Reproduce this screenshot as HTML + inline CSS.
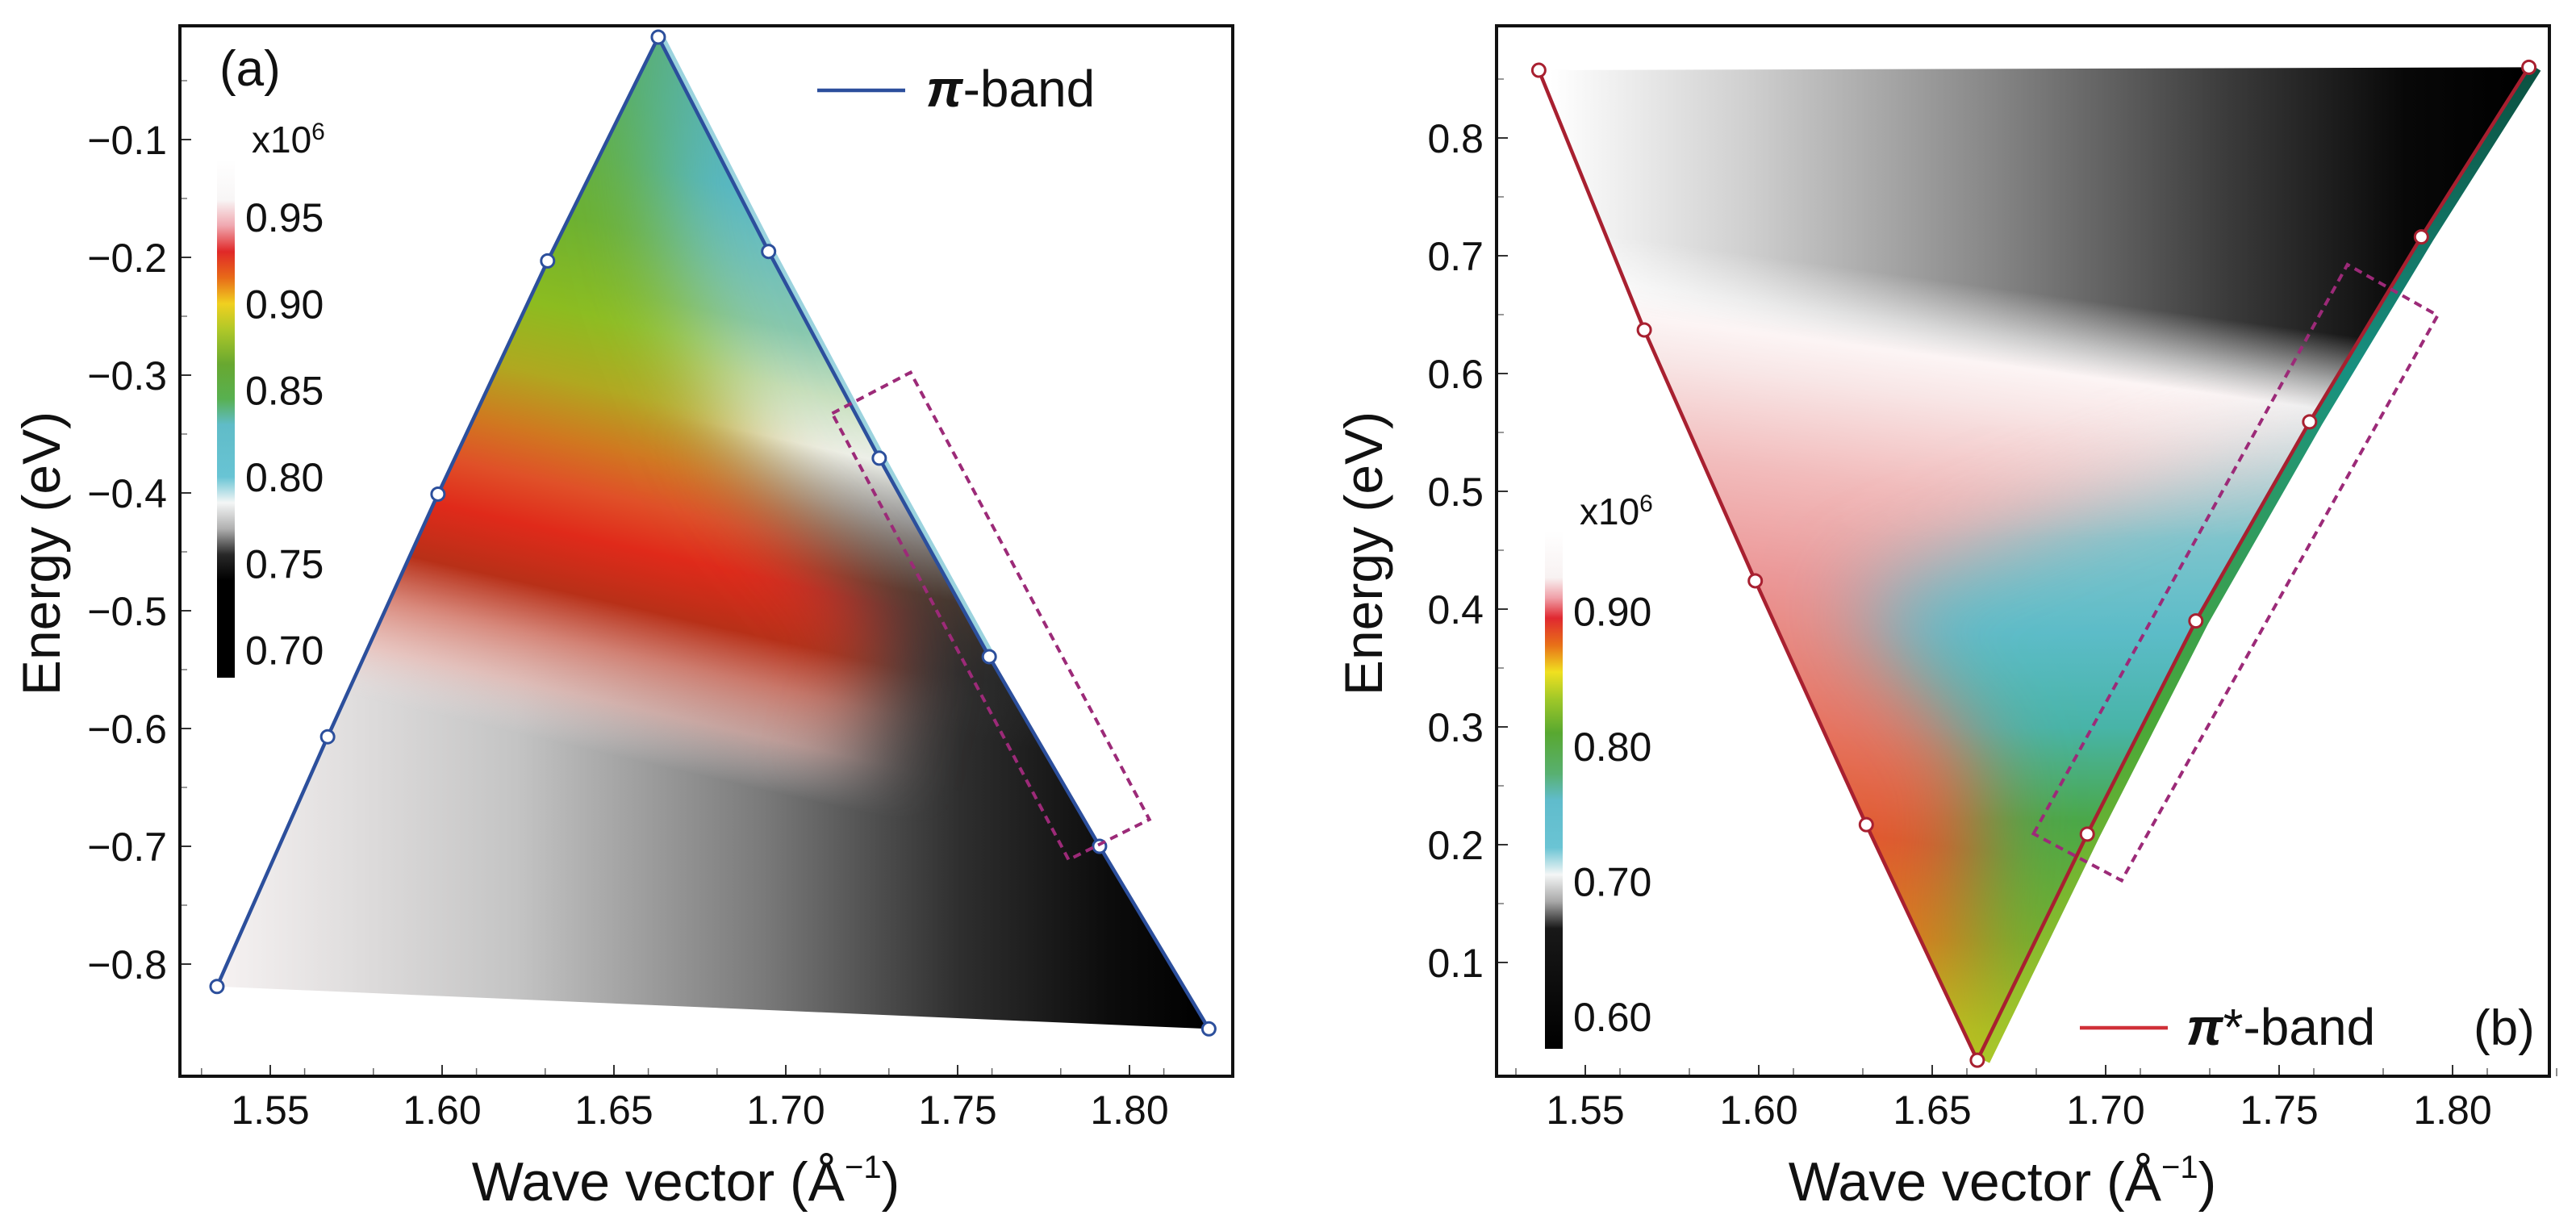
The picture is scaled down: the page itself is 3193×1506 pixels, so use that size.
<!DOCTYPE html>
<html><head><meta charset="utf-8"><style>
html,body{margin:0;padding:0;background:#fff;}
svg{display:block;font-family:"Liberation Sans",sans-serif;}
</style></head><body>
<svg id="fig" xmlns="http://www.w3.org/2000/svg" width="3193" height="1506" viewBox="0 0 3193 1506">
<defs id="defs"></defs>
</svg>
<script>
// ---------- data ----------
const xTicks = [1.55, 1.60, 1.65, 1.70, 1.75, 1.80];
const xTickLabels = ["1.55","1.60","1.65","1.70","1.75","1.80"];
const yTicksA = [-0.1,-0.2,-0.3,-0.4,-0.5,-0.6,-0.7,-0.8];
const yTickLabelsA = ["\u22120.1","\u22120.2","\u22120.3","\u22120.4","\u22120.5","\u22120.6","\u22120.7","\u22120.8"];
const yTicksB = [0.1,0.2,0.3,0.4,0.5,0.6,0.7,0.8];
const yTickLabelsB = ["0.1","0.2","0.3","0.4","0.5","0.6","0.7","0.8"];
const piK = [1.5345,1.5667,1.5988,1.6307,1.6629,1.6950,1.7272,1.7592,1.7913,1.8231];
const piE = [-0.819,-0.607,-0.401,-0.203,-0.013,-0.195,-0.3705,-0.539,-0.700,-0.855];
const piStarK = [1.5366,1.5670,1.5990,1.6310,1.6630,1.6947,1.7260,1.7588,1.7910,1.8220];
const piStarE = [0.8575,0.637,0.424,0.217,0.017,0.209,0.390,0.559,0.716,0.860];
const cbarTicksA = [0.95,0.90,0.85,0.80,0.75,0.70];
const cbarLabelsA = ["0.95","0.90","0.85","0.80","0.75","0.70"];
const cbarTicksB = [0.90,0.80,0.70,0.60];
const cbarLabelsB = ["0.90","0.80","0.70","0.60"];
const boxAK = [1.7135,1.7363,1.8058,1.7823];
const boxAE = [-0.3325,-0.2977,-0.6772,-0.7114];
const boxBK = [1.6792,1.7697,1.7957,1.7046];
const boxBE = [0.2093,0.6925,0.6493,0.1696];

// ---------- axes ----------
const A = {L:223,R:1528,T:32,B:1334,
  x:v=>335+(v-1.55)*4260, y:v=>173+(-0.1-v)*1460};
const Bp = {L:1855,R:3160,T:32,B:1334,
  x:v=>1965+(v-1.55)*4300, y:v=>171+(0.8-v)*1460};

const NS="http://www.w3.org/2000/svg";
const svg=document.getElementById('fig');
const defs=document.getElementById('defs');
function el(tag,attrs,parent){const e=document.createElementNS(NS,tag);for(const k in attrs)e.setAttribute(k,attrs[k]);(parent||svg).appendChild(e);return e;}
function grad(id,x1,y1,x2,y2,stops){
  const g=el('linearGradient',{id:id,gradientUnits:'userSpaceOnUse',x1:x1,y1:y1,x2:x2,y2:y2},defs);
  stops.forEach(s=>el('stop',{offset:s[0],'stop-color':s[1],'stop-opacity':s[2]===undefined?1:s[2]},g));
  return g;
}
function tiltGrad(id,ax,kRef,e0,e1,slope,stops){
  const x0=ax.x(kRef), y0=ax.y(e0), y1=ax.y(e1);
  const n=Math.sqrt(1+slope*slope), ux=-slope/n, uy=1/n;
  const Lp=(y1-y0)/n;
  const X1=x0+ux*Lp, Y1=y0+uy*Lp;
  return grad(id,x0,y0,X1,Y1,stops.map(s=>[(s[0]-e0)/(e1-e0),s[1],s[2]]));
}
const flt=el('filter',{id:'blur',filterUnits:'userSpaceOnUse',x:0,y:0,width:3193,height:1506},defs);
el('feGaussianBlur',{stdDeviation:'55'},flt);

function drawAxes(ax,yT,yL,name){
  const g=el('g',{});
  
  
  xTicks.forEach((v,i)=>{
    const t=el('line',{x1:ax.x(v),x2:ax.x(v),y1:ax.B,y2:ax.B-14,stroke:'#333','stroke-width':2},g);
    
    
    [0.01,0.03].forEach(d=>{const m=el('line',{x1:ax.x(v+d),x2:ax.x(v+d),y1:ax.B,y2:ax.B-10,stroke:'#666','stroke-width':1.5},g);
      
      });
    const tx=el('text',{x:ax.x(v),y:1393,'font-size':50,'text-anchor':'middle',fill:'#111'},g);
    tx.textContent=xTickLabels[i];
    
    
  });
  el('line',{x1:ax.x(1.53),x2:ax.x(1.53),y1:ax.B,y2:ax.B-10,stroke:'#666','stroke-width':1.5},g);
  yT.forEach((v,i)=>{
    const t=el('line',{x1:ax.L,x2:ax.L+14,y1:ax.y(v),y2:ax.y(v),stroke:'#333','stroke-width':2},g);
    
    
    const m=el('line',{x1:ax.L,x2:ax.L+9,y1:ax.y(v+0.05),y2:ax.y(v+0.05),stroke:'#777','stroke-width':1.5},g);
    
    
    const tx=el('text',{x:ax.L-16,y:ax.y(v)+18,'font-size':50,'text-anchor':'end',fill:'#111'},g);
    tx.textContent=yL[i];
    
    
  });
  const fr=el('rect',{x:ax.L,y:ax.T,width:ax.R-ax.L,height:ax.B-ax.T,fill:'none',stroke:'#111','stroke-width':4},g);
  
  
}

function polyPts(ax,K,E){return K.map((k,i)=>ax.x(k)+','+ax.y(E[i])).join(' ');}

// ---------- Panel A heatmap ----------
(function(){
  const ax=A;
  const cp=el('clipPath',{id:'clipA'},defs);
  el('polygon',{points:polyPts(ax,piK,piE)},cp);
  grad('gA_base',ax.x(1.535),0,ax.x(1.823),0,[[0,'#f6f2f2'],[0.3,'#c4c4c4'],[0.55,'#7a7a7a'],[0.75,'#2e2e2e'],[0.9,'#0c0c0c'],[1,'#000']]);
  tiltGrad('gA_right',ax,1.70,-0.02,-0.62,0.2286,[[-0.02,'#5ab0a0'],[-0.15,'#58b8c8'],[-0.26,'#88c8b0'],[-0.31,'#c8e0c0'],[-0.355,'#eef0ea'],[-0.40,'#a8a8a8',0.85],[-0.46,'#4a3a30',0.7],[-0.52,'#303030',0.3],[-0.57,'#404040',0]]);
  tiltGrad('gA_left',ax,1.60,-0.02,-0.66,0.2286,[[-0.02,'#5aae50'],[-0.14,'#6cb030'],[-0.22,'#8cbc20'],[-0.28,'#b0a820'],[-0.33,'#d07820'],[-0.37,'#e05028'],[-0.41,'#e02a1a'],[-0.46,'#b83018'],[-0.50,'#d87868',0.85],[-0.545,'#f0b8b0',0.6],[-0.59,'#f0e0e0',0]]);
  const mk=el('mask',{id:'mA_left',maskUnits:'userSpaceOnUse',x:0,y:0,width:3193,height:1506},defs);
  el('polygon',{points:[[1.40,0.2],[1.655,0.2],[1.665,-0.2],[1.69,-0.38],[1.73,-0.52],[1.69,-1.0],[1.40,-1.0]].map(p=>ax.x(p[0])+','+ax.y(p[1])).join(' '),fill:'#fff',filter:'url(#blur)'},mk);
  const g=el('g',{'clip-path':'url(#clipA)'});
  
  
  el('rect',{x:ax.L,y:ax.T,width:ax.R-ax.L,height:ax.B-ax.T,fill:'url(#gA_base)'},g);
  el('rect',{x:ax.L,y:ax.T,width:ax.R-ax.L,height:ax.B-ax.T,fill:'url(#gA_right)'},g);
  el('rect',{x:ax.L,y:ax.T,width:ax.R-ax.L,height:ax.B-ax.T,fill:'url(#gA_left)',mask:'url(#mA_left)'},g);
  const ce=el('polyline',{points:[4,5,6,7].map(i=>(ax.x(piK[i])+5)+','+ax.y(piE[i])).join(' '),fill:'none',stroke:'#70c0d0','stroke-width':6,'stroke-opacity':0.7});
  
  
})();

// ---------- Panel B heatmap ----------
(function(){
  const ax=Bp;
  const cp=el('clipPath',{id:'clipB'},defs);
  el('polygon',{points:polyPts(ax,piStarK,piStarE)},cp);
  tiltGrad('gB_base',ax,1.60,0.9,0.0,0.136,[[0.9,'#ffffff'],[0.66,'#ffffff'],[0.6,'#f8e6e6'],[0.52,'#f2bcbc'],[0.43,'#ec9898'],[0.32,'#e87868'],[0.22,'#e05a30'],[0.14,'#dc7a20'],[0.07,'#c4b820'],[0.0,'#b8cc20']]);
  grad('gB_gray',ax.x(1.54),0,ax.x(1.82),0,[[0,'#ffffff'],[0.2,'#d0d0d0'],[0.45,'#888'],[0.7,'#3a3a3a'],[0.88,'#080808'],[1,'#000']]);
  tiltGrad('gB_grayMask',ax,1.60,0.9,0.5,0.136,[[0.9,'#fff'],[0.70,'#fff'],[0.635,'#000'],[0.5,'#000']]);
  const mg=el('mask',{id:'mB_gray',maskUnits:'userSpaceOnUse',x:0,y:0,width:3193,height:1506},defs);
  el('rect',{x:ax.L,y:ax.T,width:ax.R-ax.L,height:ax.B-ax.T,fill:'url(#gB_grayMask)'},mg);
  tiltGrad('gB_cyan',ax,1.72,0.62,0.0,0.0,[[0.62,'#d0e0e2',0],[0.53,'#b0d4d8',0.7],[0.46,'#7cc4cc'],[0.38,'#5cbcc8'],[0.3,'#48b4a8'],[0.22,'#4aa848'],[0.12,'#70b030'],[0.0,'#b0c820']]);
  const mc=el('mask',{id:'mB_cyan',maskUnits:'userSpaceOnUse',x:0,y:0,width:3193,height:1506},defs);
  el('polygon',{points:[[1.625,0.41],[1.72,0.52],[1.78,0.61],[1.95,0.63],[1.95,-0.2],[1.68,-0.2],[1.66,0.12],[1.665,0.27]].map(p=>ax.x(p[0])+','+ax.y(p[1])).join(' '),fill:'#fff',filter:'url(#blur)'},mc);
  const g=el('g',{'clip-path':'url(#clipB)'});
  
  
  el('rect',{x:ax.L,y:ax.T,width:ax.R-ax.L,height:ax.B-ax.T,fill:'url(#gB_base)'},g);
  el('rect',{x:ax.L,y:ax.T,width:ax.R-ax.L,height:ax.B-ax.T,fill:'url(#gB_cyan)',mask:'url(#mB_cyan)'},g);
  el('rect',{x:ax.L,y:ax.T,width:ax.R-ax.L,height:ax.B-ax.T,fill:'url(#gB_gray)',mask:'url(#mB_gray)'},g);
  grad('gB_strip',0,ax.y(0),0,ax.y(0.86),[[0,'#b0c828'],[0.35,'#4aa838'],[0.7,'#189080'],[1,'#0a5040']]);
  const s=el('polyline',{points:[4,5,6,7,8,9].map(i=>(ax.x(piStarK[i])+8)+','+ax.y(piStarE[i])).join(' '),fill:'none',stroke:'url(#gB_strip)','stroke-width':16,'stroke-linejoin':'round'});
  
  
})();

drawAxes(A,yTicksA,yTickLabelsA,'panel-a');
drawAxes(Bp,yTicksB,yTickLabelsB,'panel-b');

// ---------- band lines ----------
function band(ax,K,E,color,name){
  const g=el('g',{});
  
  
  const pl=el('polyline',{points:polyPts(ax,K,E),fill:'none',stroke:color,'stroke-width':4.5,'stroke-linejoin':'round'},g);
  
  
  K.forEach((k,i)=>{
    const c=el('circle',{cx:ax.x(k),cy:ax.y(E[i]),r:8,fill:'#fff',stroke:color,'stroke-width':3},g);
    
    
  });
}
band(A,piK,piE,'#2c4f9c','pi-band');
band(Bp,piStarK,piStarE,'#a82030','pi-star-band');

// ---------- dashed boxes ----------
function box(ax,K,E,name){
  const p=el('polygon',{points:polyPts(ax,K,E),fill:'none',stroke:'#9c2a78','stroke-width':4,'stroke-dasharray':'10 7'});
  
  
}
box(A,boxAK,boxAE,'highlight-box-a');
box(Bp,boxBK,boxBE,'highlight-box-b');

// ---------- colorbars ----------
function colorbar(x,top,bot,vTop,vBot,stops,ticks,labels,name){
  const g=el('g',{});
  
  
  const sc=v=>top+(vTop-v)/(vTop-vBot)*(bot-top);
  grad(name+'-grad',0,top,0,bot,stops.map(s=>[(vTop-s[0])/(vTop-vBot),s[1]]));
  el('rect',{x:x,y:top,width:22,height:bot-top,fill:'url(#'+name+'-grad)'},g);
  const ex=el('text',{x:x+43,y:top-8,'font-size':46,fill:'#111'},g);
  ex.innerHTML='x10<tspan dy="-16" font-size="30">6</tspan>';
  
  
  ticks.forEach((v,i)=>{
    const t=el('text',{x:x+35,y:sc(v)+18,'font-size':50,fill:'#111'},g);
    t.textContent=labels[i];
    
    
  });
}
colorbar(269,197,840,0.9835,0.684,[[0.9835,'#ffffff'],[0.96,'#f8f6f6'],[0.945,'#f0a8b0'],[0.93,'#e02828'],[0.915,'#e86a18'],[0.90,'#f0d020'],[0.885,'#b0c828'],[0.865,'#68a830'],[0.845,'#58b050'],[0.83,'#60bcc8'],[0.80,'#68c4d4'],[0.785,'#f4f6f6'],[0.77,'#b0b0b0'],[0.755,'#282828'],[0.74,'#000'],[0.684,'#000']],cbarTicksA,cbarLabelsA,'colorbar-a');
colorbar(1915,658,1300,0.9596,0.576,[[0.9596,'#ffffff'],[0.925,'#f8f2f2'],[0.91,'#f0a0a8'],[0.895,'#e02830'],[0.875,'#e87018'],[0.855,'#f0e020'],[0.835,'#a0c828'],[0.81,'#58a830'],[0.78,'#58b070'],[0.76,'#60bccc'],[0.725,'#6ac4d4'],[0.705,'#f4f6f6'],[0.685,'#a8a8a8'],[0.665,'#181818'],[0.576,'#000']],cbarTicksB,cbarLabelsB,'colorbar-b');

// ---------- legends, labels, titles ----------
function txt(x,y,size,content,name,extra){
  const t=el('text',Object.assign({x:x,y:y,'font-size':size,fill:'#111'},extra||{}));
  t.innerHTML=content;
  
  
  return t;
}
const la=el('line',{x1:1013,x2:1122,y1:112,y2:112,stroke:'#2c4f9c','stroke-width':4.5});


txt(1148,132,64,'<tspan font-weight="bold" font-style="italic">π</tspan>-band','legend-label-pi-band');
const lb=el('line',{x1:2578,x2:2687,y1:1274,y2:1274,stroke:'#d03038','stroke-width':4.5});


txt(2710,1295,64,'<tspan font-weight="bold" font-style="italic">π</tspan>*-band','legend-label-pi-star-band');
txt(272,106,62,'(a)','panel-label-a');
txt(3066,1295,62,'(b)','panel-label-b');
txt(850,1488,68,'Wave vector (Å<tspan dy="-28" font-size="40">−1</tspan><tspan dy="28">)</tspan>','x-axis-title-a',{'text-anchor':'middle'});
txt(2482,1488,68,'Wave vector (Å<tspan dy="-28" font-size="40">−1</tspan><tspan dy="28">)</tspan>','x-axis-title-b',{'text-anchor':'middle'});
txt(0,0,66,'Energy (eV)','y-axis-title-a',{'text-anchor':'middle',transform:'translate(74,686) rotate(-90)'});
txt(0,0,66,'Energy (eV)','y-axis-title-b',{'text-anchor':'middle',transform:'translate(1713,686) rotate(-90)'});
</script>
</body></html>
